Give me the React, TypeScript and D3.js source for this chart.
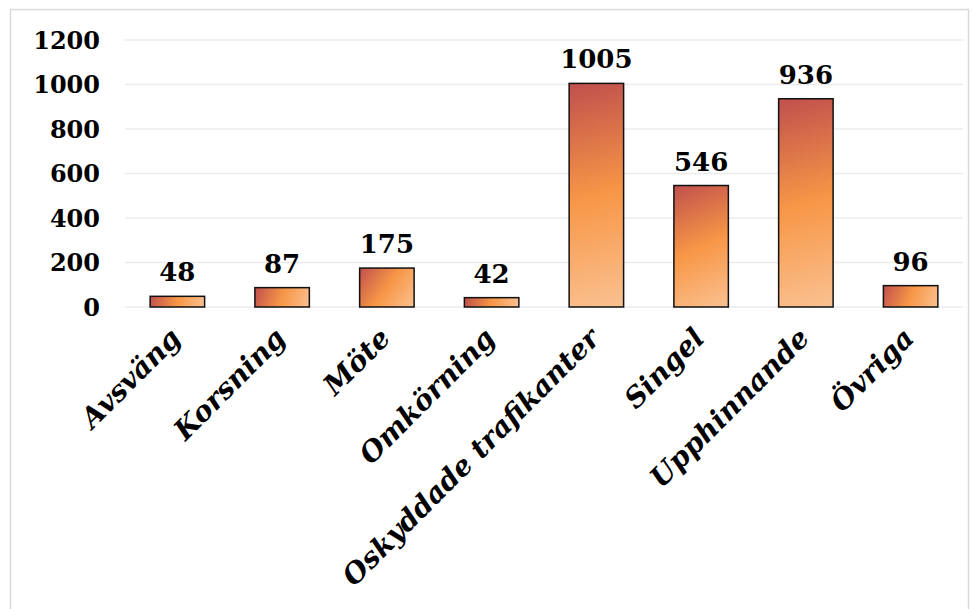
import React from "react";
import * as d3 from "d3";

const categories = ["Avsväng", "Korsning", "Möte", "Omkörning", "Oskyddade trafikanter", "Singel", "Upphinnande", "Övriga"];
const values = [48, 87, 175, 42, 1005, 546, 936, 96];
const yTicks = [0, 200, 400, 600, 800, 1000, 1200];

const W = 979;
const H = 609;
const plot = { left: 125, right: 963, top: 40, bottom: 307 };

export default function App() {
  const x = d3.scaleBand<string>().domain(categories).range([plot.left, plot.right]).paddingInner(0.48).paddingOuter(0.24);
  const y = d3.scaleLinear().domain([0, 1200]).range([plot.bottom, plot.top]);
  const numFont = "'DejaVu Serif', serif";
  return (
    <svg width={W} height={H} style={{ position: "absolute", left: 0, top: 0, background: "#fff" }}>
      <defs>
        {categories.map((c, i) => {
          const x0 = x(c)!;
          const y0 = y(values[i]);
          return (
            <linearGradient key={c} id={`g${i}`} gradientUnits="userSpaceOnUse" x1={x0} y1={y0} x2={x0 + x.bandwidth()} y2={y(0)}>
              <stop offset="0" stopColor="#c0504d" />
              <stop offset="0.5" stopColor="#f79646" />
              <stop offset="1" stopColor="#fac191" />
            </linearGradient>
          );
        })}
      </defs>
      <rect x={10.5} y={9.5} width={958} height={620} fill="none" stroke="#d9d9d9" strokeWidth={1.5} />
      {yTicks.map((t) => (
        <g key={t}>
          <line x1={plot.left} x2={plot.right} y1={y(t)} y2={y(t)} stroke="#ebebeb" strokeWidth={1.5} />
          <text x={100} y={y(t)} dy="0.36em" textAnchor="end" fontFamily={numFont} fontWeight="bold" fontSize={24} fill="#000">
            {t}
          </text>
        </g>
      ))}
      {categories.map((c, i) => {
        const x0 = x(c)!;
        const cx = x0 + x.bandwidth() / 2;
        const y0 = y(values[i]);
        return (
          <g key={c}>
            <rect x={x0} y={y0} width={x.bandwidth()} height={y(0) - y0} fill={`url(#g${i})`} stroke="#111" strokeWidth={1.5} />
            <text x={cx} y={y0 - 15} textAnchor="middle" fontFamily={numFont} fontWeight="bold" fontSize={26} fill="#000">
              {values[i]}
            </text>
            <text
              transform={`translate(${cx + 5},${340}) rotate(-45)`}
              textAnchor="end"
              fontFamily={numFont}
              fontWeight="bold"
              fontStyle="italic"
              fontSize={28}
              fill="#000"
            >
              {c}
            </text>
          </g>
        );
      })}
    </svg>
  );
}
